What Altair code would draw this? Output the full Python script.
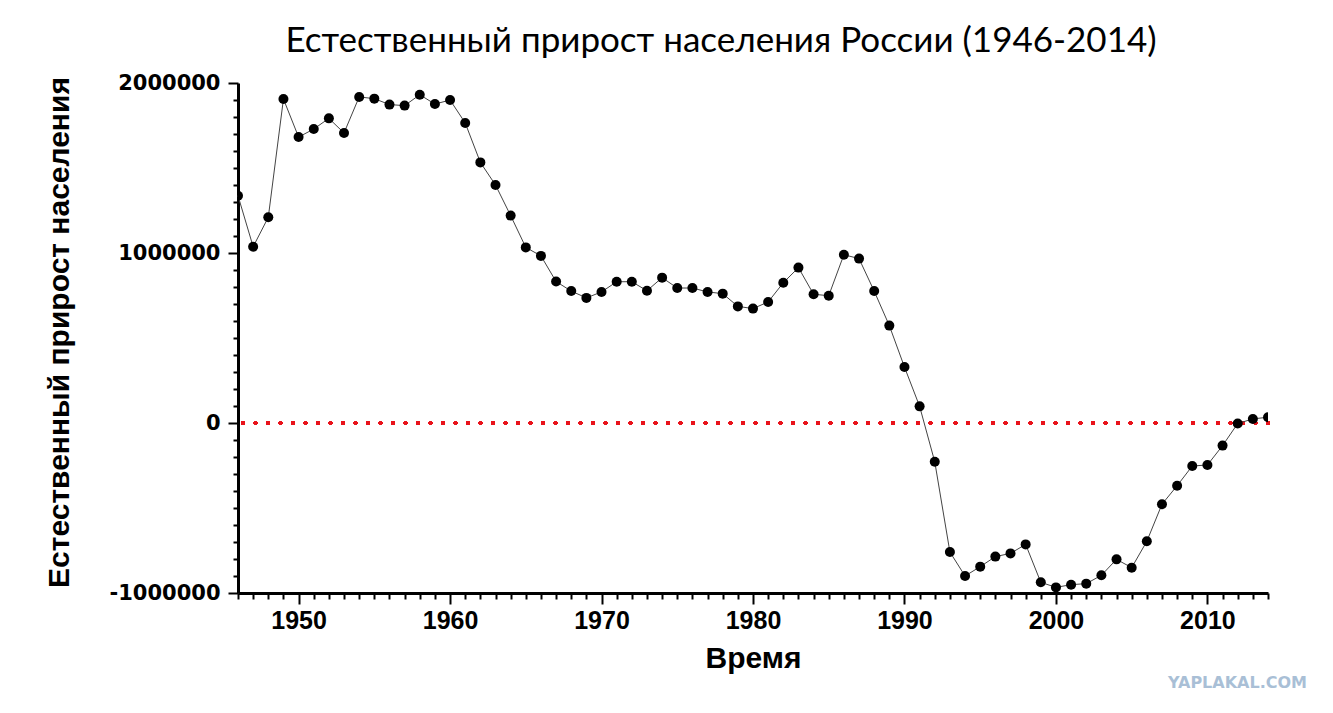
import altair as alt
import pandas as pd

years = list(range(1946, 2015))
values = [
    1337000, 1037000, 1210000, 1906000, 1682000, 1729000, 1792000, 1706000,
    1918000, 1908000, 1873000, 1867000, 1931000, 1876000, 1900000, 1765000,
    1533000, 1400000, 1220000, 1033000, 983000, 832000, 776000, 736000,
    771000, 831000, 831000, 778000, 855000, 794000, 794000, 771000,
    761000, 686000, 673000, 712000, 825000, 914000, 757000, 749000,
    990000, 967000, 776000, 573000, 329000, 98000, -228000, -759000,
    -900000, -845000, -786000, -767000, -714000, -937000, -967000, -951000,
    -945000, -896000, -802000, -851000, -696000, -478000, -369000, -253000,
    -247000, -133000, -3000, 24000, 34000,
]

x_ticks = list(range(1946, 2015))
y_ticks = list(range(-1000000, 2000001, 100000))

df = pd.DataFrame({"year": years, "value": values})

title_text = "Естественный прирост населения России (1946-2014)"
x_title = "Время"
y_title = "Естественный прирост населения"
watermark = "YAPLAKAL.COM"

AX_FONT = "Liberation Sans"

x_enc = alt.X(
    "year:Q",
    scale=alt.Scale(domain=[1946, 2014], nice=False, zero=False),
    axis=alt.Axis(
        values=x_ticks,
        tickCount=200,
        format="d",
        labelExpr="datum.value % 10 === 0 ? datum.label : ''",
        tickSize={"condition": {"test": "datum.value % 10 === 0", "value": 11}, "value": 6},
        labelPadding=4,
        labelOverlap=False,
        labelFlush=False,
        labelFontSize=25,
        title=x_title,
        titleFontSize=30,
        titlePadding=10,
    ),
)

y_enc = alt.Y(
    "value:Q",
    scale=alt.Scale(domain=[-1000000, 2000000], nice=False),
    axis=alt.Axis(
        values=y_ticks,
        tickCount=200,
        labelExpr="datum.value % 1000000 === 0 ? (datum.value < 0 ? '-' : '') + format(abs(datum.value), 'd') : ''",
        tickSize={"condition": {"test": "datum.value % 1000000 === 0", "value": 10}, "value": 5},
        labelPadding=8,
        labelOverlap=False,
        labelFlush=False,
        labelFont="DejaVu Sans",
        labelFontSize=21,
        title=y_title,
        titleFontSize=30,
        titlePadding=35,
        titleY=249,
    ),
)

line = alt.Chart(df).mark_line(color="#444444", strokeWidth=1).encode(x=x_enc, y=y_enc)

points = alt.Chart(df).mark_circle(size=100, color="black", opacity=1, clip=True).encode(
    x="year:Q", y="value:Q"
)

zero_rule = alt.Chart(df).mark_rule(
    color="#e8141c", strokeWidth=3.5, strokeDash=[0.1, 12.4], strokeCap="round"
).encode(y=alt.datum(0))

wm = alt.Chart(pd.DataFrame({"t": [watermark]})).mark_text(
    font="DejaVu Sans", fontSize=16, fontWeight="bold", color="#a9bfd6", align="right", baseline="middle"
).encode(text="t:N", x=alt.value(1069), y=alt.value(600))

chart = (
    alt.layer(zero_rule, line, points, wm)
    .properties(
        width=1030,
        height=510,
        padding={"left": 230, "top": 75, "right": 57, "bottom": 112},
        autosize=alt.AutoSizeParams(type="none"),
        title=alt.TitleParams(
            text=title_text,
            font="Lato",
            fontSize=35,
            fontWeight="normal",
            color="black",
            anchor="middle",
            dx=-32,
            offset=13,
        ),
    )
    .configure_view(stroke=None)
    .configure_axis(
        grid=False,
        domainColor="black",
        domainWidth=3,
        tickColor="black",
        tickWidth=2,
        labelFont=AX_FONT,
        labelFontWeight="bold",
        labelColor="black",
        titleFont=AX_FONT,
        titleFontWeight="bold",
        titleColor="black",
    )
)

chart.save("out.html", embed_options={"renderer": "svg", "actions": False})
